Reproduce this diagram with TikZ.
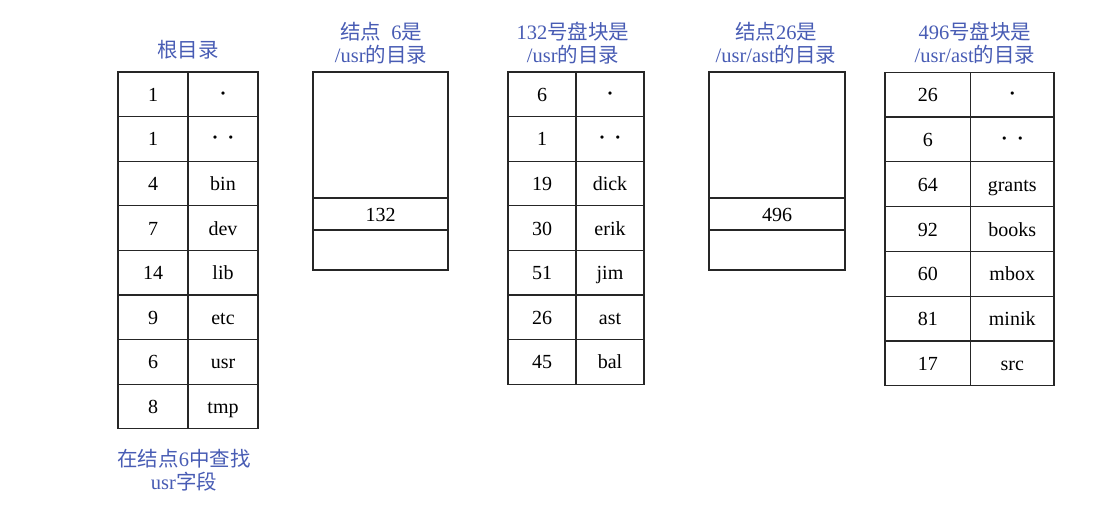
\documentclass[tikz,border=0pt]{standalone}
\usepackage{fontspec}
\usepackage{xcolor}
\usepackage{tikz}
\setmainfont{Liberation Serif}
\newfontfamily\cjk{Noto Sans CJK SC}
\newcommand{\zh}[1]{{\cjk #1}}
\newcommand{\dotone}{{\fontsize{27}{27}\selectfont\raisebox{-1pt}{·}}}
\newcommand{\dottwo}{{\fontsize{27}{27}\selectfont\raisebox{-1pt}{·\hspace{7pt}·}}}
\definecolor{capblue}{RGB}{72,92,180}

\begin{document}
\begin{tikzpicture}[x=1pt,y=-1pt]
\tikzset{cell/.style={draw=black!85, line width=1.3pt, inner sep=0pt, text height=14pt, text depth=0pt, font=\fontsize{20}{22}\selectfont}}
\tikzset{caption/.style={text=capblue, align=center, inner sep=0pt, font=\fontsize{20.5}{23}\selectfont}}
\useasboundingbox (0,0) rectangle (1111,506);
% root directory
\node[caption] (rootcap) at (188,50) {\zh{根目录}};
\foreach \num/\name [count=\i] in {1/\dotone, 1/\dottwo, 4/bin, 7/dev, 14/lib, 9/etc, 6/usr, 8/tmp} {
  \node[cell, minimum width=70pt, minimum height=44.6pt] (root-\i-n) at (153,{94.3+44.6*(\i-1)}) {\num};
  \node[cell, minimum width=70pt, minimum height=44.6pt] (root-\i-f) at (223,{94.3+44.6*(\i-1)}) {\name};
}
\node[caption] (findcap) at (184,470) {\zh{在结点}6\zh{中查找}\\usr\zh{字段}};
% i-node 6
\node[caption] (ino6cap) at (381,43.5) {\zh{结点}~~6\zh{是}\\/usr\zh{的目录}};
\node[cell, minimum width=135pt, minimum height=126pt] (ino6-top) at (380.5,135) {};
\node[cell, minimum width=135pt, minimum height=32pt] (ino6-blk) at (380.5,214) {132};
\node[cell, minimum width=135pt, minimum height=40pt] (ino6-end) at (380.5,250) {};
% block 132
\node[caption] (blk132cap) at (573,43.5) {132\zh{号盘块是}\\/usr\zh{的目录}};
\foreach \num/\name [count=\i] in {6/\dotone, 1/\dottwo, 19/dick, 30/erik, 51/jim, 26/ast, 45/bal} {
  \node[cell, minimum width=68pt, minimum height=44.6pt] (blk132-\i-n) at (542,{94.3+44.6*(\i-1)}) {\num};
  \node[cell, minimum width=68pt, minimum height=44.6pt] (blk132-\i-f) at (610,{94.3+44.6*(\i-1)}) {\name};
}
% i-node 26
\node[caption] (ino26cap) at (776,43.5) {\zh{结点}26\zh{是}\\/usr/ast\zh{的目录}};
\node[cell, minimum width=136pt, minimum height=126pt] (ino26-top) at (777,135) {};
\node[cell, minimum width=136pt, minimum height=32pt] (ino26-blk) at (777,214) {496};
\node[cell, minimum width=136pt, minimum height=40pt] (ino26-end) at (777,250) {};
% block 496
\node[caption] (blk496cap) at (975,43.5) {496\zh{号盘块是}\\/usr/ast\zh{的目录}};
\foreach \num/\name [count=\i] in {26/\dotone, 6/\dottwo, 64/grants, 92/books, 60/mbox, 81/minik, 17/src} {
  \node[cell, minimum width=85.5pt, minimum height=44.8pt] (blk496-\i-n) at (927.75,{94.6+44.8*(\i-1)}) {\num};
  \node[cell, minimum width=83.5pt, minimum height=44.8pt] (blk496-\i-f) at (1012.25,{94.6+44.8*(\i-1)}) {\name};
}
\end{tikzpicture}
\end{document}
